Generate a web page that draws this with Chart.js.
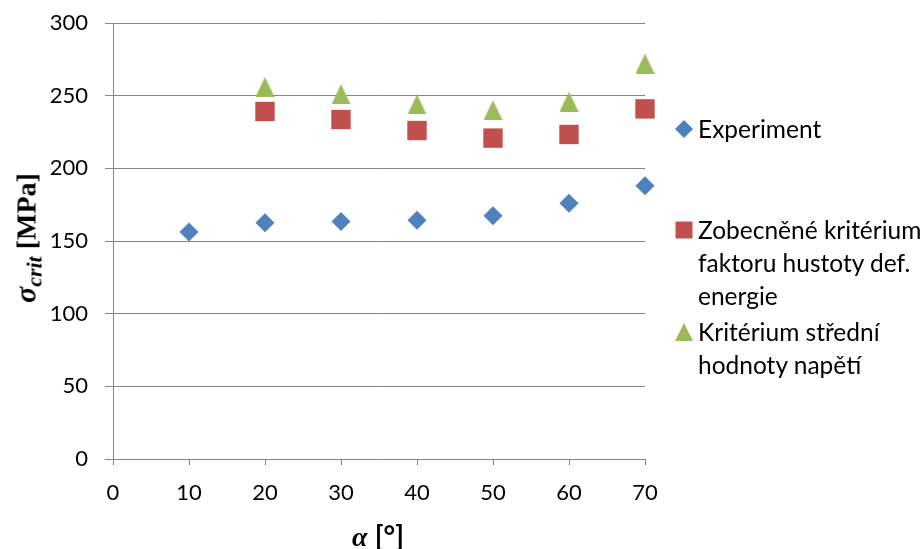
<!DOCTYPE html>
<html>
<head>
<meta charset="utf-8">
<script src="https://cdn.jsdelivr.net/npm/chart.js@4/dist/chart.umd.min.js"></script>
<style>
  html, body { margin: 0; padding: 0; background: #fff; }
  #wrap { position: relative; width: 923px; height: 549px; overflow: hidden; font-family: Lato, "Open Sans", sans-serif; color: #000; }
  #chart { position: absolute; left: 0; top: 0; }
  .ytitle { position: absolute; left: 28px; top: 238px; transform: translate(-50%, -50%) rotate(-90deg);
            white-space: nowrap; font-family: "Liberation Serif", serif; font-weight: bold; font-size: 28px; line-height: 1; }
  .ytitle i { font-size: 30px; }
  .ytitle i sub { font-size: 22px; vertical-align: -6px; }
  .xtitle { position: absolute; left: 378px; top: 536px; transform: translate(-50%, -50%);
            white-space: nowrap; font-size: 28px; line-height: 1; }
  .xtitle i { font-family: "Liberation Serif", serif; font-weight: bold; }
  .xtitle span { font-family: Lato, sans-serif; font-weight: bold; }
  .leg { position: absolute; left: 675px; white-space: nowrap; font-size: 24.5px; line-height: 33px; }
  .leg svg { position: absolute; left: 0; top: 8px; }
  .leg div { margin-left: 23px; }
</style>
</head>
<body>
<div id="wrap">
  <canvas id="chart" width="923" height="549"></canvas>
  <div class="ytitle"><i>σ<sub>crit</sub></i> [MPa]</div>
  <div class="xtitle"><i>α</i> <span>[°]</span></div>

  <div class="leg" style="top:112px">
    <svg width="18" height="18"><polygon points="9,0 18,9 9,18 0,9" fill="#4F81BD"/></svg>
    <div>Experiment</div>
  </div>
  <div class="leg" style="top:213px">
    <svg width="18" height="18"><rect x="0.5" y="0.5" width="17" height="17" fill="#C0504D"/></svg>
    <div>Zobecněné kritérium<br>faktoru hustoty def.<br>energie</div>
  </div>
  <div class="leg" style="top:315px">
    <svg width="18" height="18"><polygon points="9,0 18,18 0,18" fill="#9BBB59"/></svg>
    <div>Kritérium střední<br>hodnoty napětí</div>
  </div>
</div>

<script>
(function () {
  "use strict";

  // ── Data ─────────────────────────────────────────────
  const ALPHA        = [10, 20, 30, 40, 50, 60, 70];
  const EXPERIMENT   = [156.2, 162.6, 163.5, 164.2, 167.4, 175.9, 188.1];
  const ALPHA_CRIT   = [20, 30, 40, 50, 60, 70];
  const ZOBECNENE    = [239.1, 233.6, 226.0, 220.8, 223.3, 240.9];
  const STREDNI      = [256.0, 251.0, 244.0, 240.0, 245.9, 272.1];

  const X_MIN = 0, X_MAX = 70, X_STEP = 10;
  const Y_MIN = 0, Y_MAX = 300, Y_STEP = 50;

  const GRID = "#868686";
  const TICK_FONT = { family: "Lato, 'Open Sans', sans-serif", size: 22 };

  // trojúhelník jako obrázek (střed obálky = hodnota, jako v Excelu)
  function triangleMarker(w, h, color) {
    const c = document.createElement("canvas");
    c.width = w; c.height = h;
    const ctx = c.getContext("2d");
    ctx.fillStyle = color;
    ctx.beginPath();
    ctx.moveTo(w / 2, 0);
    ctx.lineTo(w, h);
    ctx.lineTo(0, h);
    ctx.closePath();
    ctx.fill();
    return c;
  }

  const toPoints = (xs, ys) => xs.map((x, i) => ({ x: x, y: ys[i] }));

  new Chart(document.getElementById("chart"), {
    type: "scatter",
    data: {
      datasets: [
        {
          label: "Experiment",
          data: toPoints(ALPHA, EXPERIMENT),
          pointStyle: "rectRot",
          pointRadius: 9.5,
          backgroundColor: "#4F81BD",
          borderWidth: 0,
        },
        {
          label: "Zobecněné kritérium faktoru hustoty def. energie",
          data: toPoints(ALPHA_CRIT, ZOBECNENE),
          pointStyle: "rect",
          pointRadius: 13.7,
          backgroundColor: "#C0504D",
          borderWidth: 0,
        },
        {
          label: "Kritérium střední hodnoty napětí",
          data: toPoints(ALPHA_CRIT, STREDNI),
          pointStyle: triangleMarker(19, 20, "#9BBB59"),
          backgroundColor: "#9BBB59",
          borderWidth: 0,
        },
      ],
    },
    options: {
      responsive: false,
      animation: false,
      devicePixelRatio: 1,
      clip: false,
      layout: { padding: { top: 23, right: 278, left: 0, bottom: 0 } },
      plugins: {
        legend: { display: false },
        tooltip: { enabled: false },
      },
      scales: {
        x: {
          type: "linear",
          min: X_MIN, max: X_MAX,
          ticks: { stepSize: X_STEP, font: TICK_FONT, color: "#000", padding: 15, maxRotation: 0 },
          grid: { drawOnChartArea: false, drawTicks: true, tickLength: 6, color: GRID },
          border: { color: GRID, width: 1 },
          afterFit: (s) => { s.height = 90; s.paddingLeft = 0; s.paddingRight = 0; },
        },
        y: {
          min: Y_MIN, max: Y_MAX,
          ticks: { stepSize: Y_STEP, font: TICK_FONT, color: "#000", padding: 17 },
          grid: { color: GRID, tickLength: 8 },
          border: { color: GRID, width: 1 },
          // popisky osy y nesmí posouvat horní okraj plochy grafu
          afterFit: (s) => { s.width = 113; s.paddingTop = 0; s.paddingBottom = 0; },
        },
      },
    },
  });
})();
</script>
</body>
</html>
